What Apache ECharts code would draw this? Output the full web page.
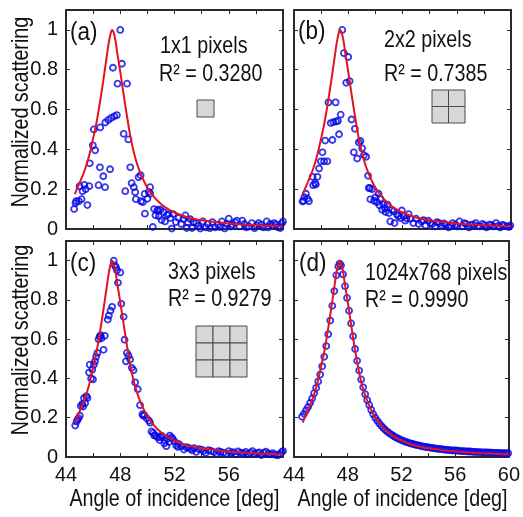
<!DOCTYPE html>
<html>
<head>
<meta charset="utf-8">
<script src="https://cdn.jsdelivr.net/npm/echarts@6/dist/echarts.min.js"></script>
<style>
html,body{margin:0;padding:0;background:#fff;}
#chart{width:523px;height:517px;}
</style>
</head>
<body>
<div id="chart"></div>
<script>
// ---------- data ----------
const xTicks = [44, 48, 52, 56, 60];
const yTicks = [0, 0.2, 0.4, 0.6, 0.8, 1];
const xTitle = 'Angle of incidence [deg]';
const yTitle = 'Normalized scattering';
const panelLetters = ['(a)', '(b)', '(c)', '(d)'];
const panelSizes = ['1x1 pixels', '2x2 pixels', '3x3 pixels', '1024x768 pixels'];
const panelR2 = ['0.3280', '0.7385', '0.9279', '0.9990'];
const panelCells = [1, 2, 3, 0];

// fitted curve (same in all panels)
const fitX = [44.65,44.8,45.0,45.25,45.5,45.75,46.0,46.25,46.5,46.75,47.0,47.15,47.3,47.4,47.5,47.65,47.8,48.0,48.25,48.5,48.75,49.0,49.25,49.5,49.75,50.0,50.5,51.0,51.5,52.0,52.5,53.0,53.5,54.0,55.0,56.0,57.0,58.0,59.0,60.0];
const fitY = [0.175,0.2,0.232,0.272,0.32,0.38,0.455,0.535,0.635,0.745,0.865,0.935,0.985,1.0,0.99,0.945,0.875,0.79,0.675,0.565,0.465,0.385,0.325,0.278,0.24,0.208,0.16,0.126,0.101,0.083,0.069,0.058,0.05,0.044,0.035,0.028,0.023,0.019,0.016,0.013];

const pointsA = [[44.60,0.10],[44.70,0.13],[44.76,0.14],[44.95,0.14],[45.00,0.215],[45.15,0.15],[45.22,0.19],[45.35,0.222],[45.45,0.20],[45.58,0.12],[45.72,0.215],[45.75,0.33],[45.98,0.42],[46.05,0.50],[46.15,0.395],[46.40,0.22],[46.50,0.31],[46.52,0.51],[46.75,0.265],[46.88,0.21],[46.90,0.535],[47.12,0.548],[47.25,0.30],[47.33,0.558],[47.46,0.81],[47.56,0.566],[47.75,0.572],[47.80,0.73],[48.00,1.00],[48.12,0.83],[48.25,0.478],[48.37,0.19],[48.50,0.73],[48.60,0.45],[48.74,0.31],[48.84,0.23],[49.00,0.21],[49.10,0.185],[49.15,0.15],[49.35,0.26],[49.50,0.27],[49.52,0.14],[49.66,0.135],[49.80,0.176],[49.82,0.077],[50.0,0.152],[50.1,0.186],[50.2,0.21],[50.22,0.177],[50.40,0.01],[50.50,0.10],[50.60,0.069],[50.72,0.092],[50.80,0.097],[50.85,0.064],[50.97,0.097],[51.05,0.045],[51.2,0.085],[51.3,0.038],[51.45,0.07],[51.56,0.075],[51.7,0.055],[51.8,0.002],[51.9,0.075],[52.1,0.035],[52.3,0.055],[52.5,0.025],[52.65,0.05],[52.8,0.068],[52.9,0.005],[53.0,0.033],[53.15,0.05],[53.3,0.005],[53.4,0.035],[53.6,0.03],[53.75,0.015],[53.9,0.002],[54.1,0.038],[54.3,0.008],[54.45,0.025],[54.6,0.004],[54.8,0.035],[55.0,0.008],[55.2,0.022],[55.35,0.01],[55.5,0.038],[55.7,0.003],[55.85,0.025],[56.0,0.052],[56.15,0.012],[56.3,0.022],[56.45,0.035],[56.6,0.042],[56.8,0.013],[57.0,0.042],[57.15,0.025],[57.3,0.008],[57.5,0.013],[57.7,0.03],[57.9,0.004],[58.05,0.018],[58.2,0.03],[58.4,0.022],[58.55,0.008],[58.8,0.038],[58.9,0.008],[59.05,0.025],[59.2,0.018],[59.35,0.03],[59.5,0.022],[59.65,0.008],[59.8,0.005],[59.9,0.028],[60.0,0.038]];

const pointsB = [[44.63,0.138],[44.70,0.142],[44.76,0.16],[44.88,0.177],[45.0,0.152],[45.1,0.14],[45.37,0.262],[45.41,0.22],[45.55,0.23],[45.61,0.223],[45.73,0.262],[45.85,0.304],[45.98,0.34],[46.1,0.385],[46.22,0.34],[46.3,0.444],[46.46,0.34],[46.54,0.636],[46.71,0.532],[46.83,0.447],[46.9,0.537],[47.07,0.636],[47.1,0.54],[47.24,0.543],[47.32,0.476],[47.44,0.574],[47.56,1.0],[47.68,0.883],[47.85,0.734],[48.0,0.864],[48.1,0.743],[48.24,0.55],[48.41,0.385],[48.49,0.503],[48.66,0.354],[48.78,0.435],[48.9,0.442],[49.02,0.405],[49.15,0.371],[49.32,0.363],[49.46,0.267],[49.51,0.206],[49.6,0.205],[49.63,0.149],[49.76,0.2],[49.9,0.142],[50.0,0.159],[50.12,0.135],[50.24,0.177],[50.3,0.119],[50.37,0.152],[50.5,0.097],[50.61,0.122],[50.7,0.105],[50.75,0.085],[50.9,0.122],[51.0,0.08],[51.1,0.038],[51.22,0.096],[51.35,0.089],[51.41,0.03],[51.59,0.073],[51.7,0.064],[51.85,0.055],[51.95,0.093],[52.1,0.064],[52.2,0.042],[52.3,0.054],[52.45,0.075],[52.6,0.052],[52.8,0.03],[53.0,0.052],[53.2,0.025],[53.4,0.038],[53.55,0.045],[53.7,0.018],[53.9,0.042],[54.05,0.03],[54.2,0.025],[54.4,0.013],[54.55,0.035],[54.7,0.03],[54.9,0.018],[55.05,0.028],[55.2,0.022],[55.4,0.008],[55.55,0.018],[55.7,0.03],[55.9,0.022],[56.05,0.012],[56.2,0.038],[56.4,0.013],[56.55,0.03],[56.7,0.025],[56.9,0.008],[57.05,0.02],[57.2,0.022],[57.4,0.03],[57.55,0.015],[57.7,0.013],[57.9,0.025],[58.05,0.018],[58.2,0.008],[58.4,0.022],[58.55,0.02],[58.7,0.013],[58.9,0.03],[59.05,0.015],[59.2,0.008],[59.35,0.02],[59.5,0.018],[59.7,0.013],[59.85,0.01],[59.95,0.018]];

const pointsC = [[44.68,0.16],[44.78,0.18],[44.85,0.19],[44.92,0.197],[45.02,0.21],[45.09,0.26],[45.2,0.27],[45.26,0.257],[45.33,0.30],[45.41,0.274],[45.5,0.31],[45.58,0.30],[45.7,0.43],[45.75,0.47],[45.85,0.40],[45.94,0.445],[45.99,0.395],[46.05,0.47],[46.14,0.487],[46.22,0.51],[46.31,0.53],[46.4,0.6],[46.48,0.613],[46.55,0.62],[46.62,0.605],[46.77,0.546],[46.86,0.617],[47.08,0.70],[47.16,0.72],[47.28,0.745],[47.40,0.765],[47.52,1.0],[47.6,0.975],[47.69,0.966],[47.76,0.95],[47.83,0.887],[48.0,0.94],[48.08,0.78],[48.25,0.714],[48.32,0.597],[48.42,0.487],[48.49,0.53],[48.61,0.516],[48.73,0.496],[48.85,0.454],[48.98,0.442],[49.1,0.38],[49.29,0.345],[49.46,0.264],[49.63,0.218],[49.7,0.21],[49.78,0.213],[49.95,0.197],[50.12,0.185],[50.2,0.175],[50.3,0.13],[50.43,0.123],[50.5,0.11],[50.6,0.109],[50.75,0.1],[50.9,0.086],[50.92,0.1],[51.04,0.109],[51.1,0.103],[51.25,0.069],[51.28,0.084],[51.4,0.055],[51.48,0.092],[51.6,0.077],[51.65,0.109],[51.77,0.1],[51.85,0.094],[52.0,0.08],[52.13,0.059],[52.25,0.051],[52.3,0.067],[52.5,0.055],[52.7,0.038],[52.85,0.05],[53.0,0.048],[53.15,0.042],[53.3,0.034],[53.45,0.045],[53.6,0.026],[53.8,0.04],[54.0,0.038],[54.15,0.03],[54.3,0.021],[54.5,0.035],[54.7,0.031],[54.9,0.025],[55.1,0.017],[55.25,0.03],[55.4,0.026],[55.6,0.022],[55.8,0.017],[56.0,0.03],[56.2,0.022],[56.35,0.025],[56.5,0.014],[56.7,0.028],[56.9,0.021],[57.1,0.018],[57.25,0.026],[57.4,0.014],[57.6,0.022],[57.75,0.03],[57.9,0.017],[58.1,0.02],[58.25,0.024],[58.4,0.01],[58.6,0.022],[58.75,0.027],[58.9,0.017],[59.1,0.013],[59.25,0.02],[59.4,0.012],[59.6,0.008],[59.75,0.015],[59.9,0.025],[60.0,0.03]];

const pointsD = [[44.60,0.205],[44.75,0.220],[44.90,0.238],[45.05,0.255],[45.20,0.275],[45.35,0.298],[45.50,0.325],[45.65,0.352],[45.80,0.385],[45.95,0.420],[46.10,0.462],[46.25,0.510],[46.40,0.565],[46.55,0.625],[46.70,0.695],[46.85,0.770],[47.00,0.845],[47.15,0.925],[47.30,0.970],[47.40,0.985],[47.50,0.975],[47.65,0.930],[47.80,0.870],[47.95,0.810],[48.10,0.745],[48.25,0.680],[48.40,0.615],[48.55,0.550],[48.70,0.490],[48.85,0.440],[49.00,0.395],[49.15,0.355],[49.30,0.320],[49.45,0.290],[49.60,0.265],[49.75,0.240],[49.90,0.218],[50.05,0.200],[50.20,0.185],[50.35,0.171],[50.50,0.159],[50.65,0.148],[50.80,0.138],[50.95,0.129],[51.10,0.121],[51.25,0.114],[51.40,0.107],[51.55,0.101],[51.70,0.096],[51.85,0.091],[52.00,0.086],[52.15,0.082],[52.30,0.078],[52.45,0.074],[52.60,0.071],[52.75,0.068],[52.90,0.065],[53.05,0.062],[53.20,0.060],[53.35,0.058],[53.50,0.055],[53.65,0.053],[53.80,0.051],[53.95,0.050],[54.10,0.048],[54.25,0.046],[54.40,0.045],[54.55,0.043],[54.70,0.042],[54.85,0.041],[55.00,0.040],[55.15,0.038],[55.30,0.037],[55.45,0.036],[55.60,0.035],[55.75,0.034],[55.90,0.033],[56.05,0.033],[56.20,0.032],[56.35,0.031],[56.50,0.030],[56.65,0.030],[56.80,0.029],[56.95,0.028],[57.10,0.028],[57.25,0.027],[57.40,0.026],[57.55,0.026],[57.70,0.025],[57.85,0.025],[58.00,0.024],[58.15,0.024],[58.30,0.023],[58.45,0.023],[58.60,0.022],[58.75,0.022],[58.90,0.021],[59.05,0.021],[59.20,0.021],[59.35,0.020],[59.50,0.020],[59.65,0.020],[59.80,0.019],[59.95,0.019]];

const panelPoints = [pointsA, pointsB, pointsC, pointsD];

// ---------- layout / style ----------
const FONT = "'Liberation Sans',Arial,sans-serif";
const NARROW = 0.82;           // horizontal squeeze to mimic Arial Narrow
const AX = '#2a2a2a';
const grids = [
  {left: 66, top: 10, width: 217, height: 219},
  {left: 294, top: 10, width: 217, height: 219},
  {left: 66, top: 241, width: 217, height: 216},
  {left: 294, top: 241, width: 217, height: 216}
];
const letterPos = [[70, 33], [298, 32], [70, 264], [299, 264]];
const sizePos = [[160, 46], [384, 40], [168, 272], [365, 273]];
const r2Pos = [[159, 74], [384, 74], [168, 299], [365, 300]];
const iconPos = [[197, 100, 17], [432, 90, 33], [196, 326, 51], null];
const xTitlePos = [[174.5, 499], [402.5, 499]];
const yTitlePos = [[21, 112], [21, 340]];

const fitData = fitX.map((x, i) => [x, fitY[i]]);

const xAxes = [], yAxes = [], series = [];
grids.forEach((g, i) => {
  const bottomRow = i >= 2, leftCol = i % 2 === 0;
  const tick = {show: true, inside: true, length: 4, lineStyle: {color: AX, width: 1}};
  const line = {show: true, onZero: false, lineStyle: {color: AX, width: 2}};
  xAxes.push({
    gridIndex: i, type: 'value', min: 44, max: 60, interval: 2, position: 'bottom',
    axisLine: line, axisTick: tick, splitLine: {show: false},
    axisLabel: {
      show: bottomRow, margin: 8, fontSize: 20, color: '#111', fontFamily: FONT,
      formatter: v => (xTicks.indexOf(v) >= 0 && (v < 60 || !leftCol)) ? String(v) : ''
    }
  });
  xAxes.push({
    gridIndex: i, type: 'value', min: 44, max: 60, interval: 2, position: 'top',
    axisLine: line, axisTick: tick, splitLine: {show: false}, axisLabel: {show: false}
  });
  yAxes.push({
    gridIndex: i, type: 'value', min: 0, max: 1.1, interval: 0.2, position: 'left',
    axisLine: line, axisTick: tick, splitLine: {show: false},
    axisLabel: {
      show: leftCol, margin: 8, fontSize: 20, color: '#111', fontFamily: FONT,
      formatter: v => {
        const k = yTicks.find(t => Math.abs(t - v) < 1e-6);
        return k === undefined ? '' : String(k);
      }
    }
  });
  yAxes.push({
    gridIndex: i, type: 'value', min: 0, max: 1.1, interval: 0.2, position: 'right',
    axisLine: line, axisTick: tick, splitLine: {show: false}, axisLabel: {show: false}
  });
  series.push({
    type: 'scatter', xAxisIndex: 2 * i, yAxisIndex: 2 * i,
    data: panelPoints[i], symbol: 'circle', symbolSize: 6,
    itemStyle: {color: 'rgba(0,0,0,0)', borderColor: '#0505e8', borderWidth: 1.8},
    silent: true, z: 2
  });
  series.push({
    type: 'line', xAxisIndex: 2 * i, yAxisIndex: 2 * i,
    data: fitData, showSymbol: false, smooth: 0.25,
    lineStyle: {color: '#e3141c', width: 2}, silent: true, z: 3
  });
});

// annotations
const graphic = [];
const txt = (s, x, y, size, sx, align, rot) => ({
  type: 'text', x: x, y: y, silent: true, scaleX: sx, rotation: rot || 0,
  style: {text: s, fill: '#111', font: size + 'px ' + FONT, align: align, verticalAlign: 'middle'}
});
grids.forEach((g, i) => {
  graphic.push(txt(panelLetters[i], letterPos[i][0], letterPos[i][1], 25, 0.9, 'left'));
  graphic.push(txt(panelSizes[i], sizePos[i][0], sizePos[i][1], 24, NARROW, 'left'));
  graphic.push(txt('R\u00B2 = ' + panelR2[i], r2Pos[i][0], r2Pos[i][1], 24, NARROW, 'left'));
  const ic = iconPos[i];
  if (ic) {
    const n = panelCells[i], cs = ic[2] / n;
    for (let r = 0; r < n; r++) for (let c = 0; c < n; c++) {
      graphic.push({type: 'rect', silent: true,
        shape: {x: ic[0] + c * cs, y: ic[1] + r * cs, width: cs, height: cs},
        style: {fill: '#d7d7d7', stroke: '#4a4a4a', lineWidth: 1}});
    }
  }
});
xTitlePos.forEach(p => graphic.push(txt(xTitle, p[0], p[1], 24, NARROW, 'center')));
yTitlePos.forEach(p => graphic.push(txt(yTitle, p[0], p[1], 24, NARROW, 'center', Math.PI / 2)));

const chart = echarts.init(document.getElementById('chart'), null, {renderer: 'canvas'});
chart.setOption({
  backgroundColor: '#ffffff',
  animation: false,
  grid: grids.map(g => Object.assign({containLabel: false}, g)),
  xAxis: xAxes, yAxis: yAxes, series: series, graphic: graphic
});
</script>
</body>
</html>
